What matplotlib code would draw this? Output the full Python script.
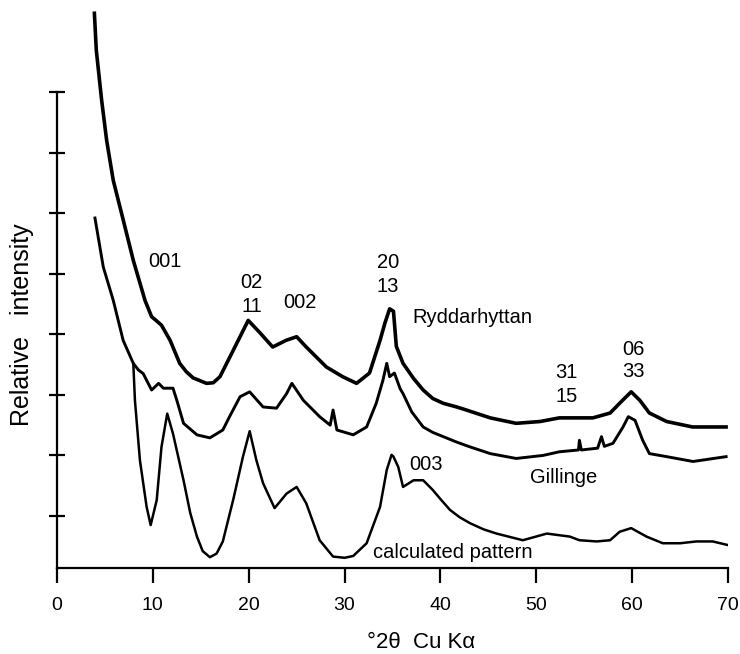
import matplotlib
matplotlib.use("Agg")
import matplotlib.pyplot as plt

plt.rcParams['font.family'] = ['Liberation Sans', 'DejaVu Sans']

# ---- data (x: degrees 2theta, y: relative intensity in tick units) ----
ryd_x = [3.9, 4.1, 4.66, 5.18, 5.87, 6.92, 7.96, 9.18, 9.87, 10.4, 10.9, 11.8, 12.8,
         13.5, 14.2, 15.6, 16.3, 17.0, 18.4, 19.95, 21.2, 22.5, 23.9, 25.0, 26.0,
         28.1, 29.8, 31.25, 32.6, 33.7, 34.2, 34.7, 35.1, 35.4, 36.1, 37.2, 38.2,
         39.2, 40.3, 41.7, 42.7, 45.2, 47.9, 50.4, 52.4, 55.9, 57.7, 59.0, 59.9,
         60.8, 61.8, 63.6, 66.3, 69.8]
ryd_y = [9.30, 8.69, 7.86, 7.20, 6.54, 5.88, 5.22, 4.56, 4.29, 4.22, 4.15, 3.90, 3.52,
         3.38, 3.28, 3.19, 3.20, 3.30, 3.74, 4.23, 4.02, 3.79, 3.90, 3.96, 3.79,
         3.46, 3.30, 3.19, 3.36, 3.90, 4.18, 4.42, 4.38, 3.80, 3.52, 3.27, 3.08,
         2.94, 2.86, 2.80, 2.75, 2.62, 2.53, 2.56, 2.62, 2.62, 2.70, 2.91, 3.05,
         2.91, 2.70, 2.56, 2.47, 2.47]

gil_x = [3.96, 4.83, 5.87, 6.9, 7.96, 8.5, 9.0, 9.35, 9.87, 10.6, 11.1, 12.1, 12.5,
         13.2, 14.6, 15.95, 17.3, 18.0, 19.1, 20.1, 21.5, 22.9, 23.95, 24.5, 25.7,
         27.4, 28.5, 28.8, 29.2, 30.9, 32.3, 33.3, 34.0, 34.4, 34.7, 35.2, 35.8,
         36.1, 37.0, 38.2, 39.2, 40.3, 41.7, 43.1, 45.2, 47.9, 50.7, 52.4, 54.4,
         54.5, 54.7, 56.4, 56.8, 57.1, 58.0, 59.05, 59.6, 60.3, 61.1, 61.8, 63.6,
         66.35, 69.8]
gil_y = [5.92, 5.11, 4.56, 3.90, 3.52, 3.41, 3.35, 3.24, 3.08, 3.19, 3.11, 3.11, 2.91,
         2.53, 2.34, 2.29, 2.42, 2.64, 2.97, 3.05, 2.80, 2.78, 3.02, 3.19, 2.91,
         2.64, 2.50, 2.75, 2.42, 2.34, 2.47, 2.86, 3.24, 3.52, 3.30, 3.36, 3.10,
         3.02, 2.72, 2.47, 2.38, 2.31, 2.22, 2.14, 2.03, 1.95, 2.00, 2.06, 2.09,
         2.25, 2.09, 2.12, 2.31, 2.15, 2.20, 2.47, 2.64, 2.58, 2.25, 2.03, 1.98,
         1.90, 1.98]

calc_x = [7.96, 8.13, 8.65, 9.35, 9.77, 10.4, 10.9, 11.5, 12.1, 13.2, 13.9, 14.6,
          15.2, 15.95, 16.65, 17.3, 18.4, 19.4, 20.1, 20.8, 21.5, 22.7, 23.95, 25.0,
          26.0, 27.4, 28.8, 30.0, 30.9, 32.3, 33.7, 34.4, 34.9, 35.1, 35.6, 36.1,
          37.2, 38.2, 39.2, 40.0, 41.0, 42.0, 43.1, 44.5, 45.85, 48.6, 51.1, 53.5,
          54.5, 56.3, 57.7, 58.7, 59.9, 61.5, 63.2, 65.0, 66.7, 68.4, 70.0]
calc_y = [3.52, 2.91, 1.92, 1.15, 0.85, 1.26, 2.14, 2.69, 2.36, 1.59, 1.05, 0.66,
          0.42, 0.32, 0.38, 0.58, 1.28, 1.98, 2.40, 1.92, 1.54, 1.13, 1.37, 1.48,
          1.21, 0.60, 0.33, 0.31, 0.34, 0.55, 1.15, 1.76, 2.01, 1.98, 1.81, 1.48,
          1.59, 1.59, 1.43, 1.28, 1.10, 0.98, 0.88, 0.78, 0.71, 0.60, 0.71, 0.66,
          0.60, 0.58, 0.60, 0.74, 0.80, 0.66, 0.55, 0.55, 0.58, 0.58, 0.52]

xticks = [0, 10, 20, 30, 40, 50, 60, 70]
yticks = [1, 2, 3, 4, 5, 6, 7, 8]

# annotations: (text, x, y, ha)
labels = [("001", 11.26, 5.11, "center"),
          ("02", 20.3, 4.764, "center"),
          ("11", 20.3, 4.373, "center"),
          ("002", 25.39, 4.434, "center"),
          ("20", 34.55, 5.094, "center"),
          ("13", 34.55, 4.698, "center"),
          ("Ryddarhyttan", 37.12, 4.186, "left"),
          ("31", 53.15, 3.278, "center"),
          ("15", 53.15, 2.882, "center"),
          ("06", 60.1, 3.658, "center"),
          ("33", 60.1, 3.295, "center"),
          ("003", 38.53, 1.759, "center"),
          ("Gillinge", 49.32, 1.54, "left"),
          ("calculated pattern", 32.95, 0.307, "left")]

fig = plt.figure(figsize=(7.4, 6.54), dpi=100)
ax = fig.add_axes([57/740, 86/654, 671/740, 558/654])

ax.plot(ryd_x, ryd_y, color='black', lw=2.6, solid_joinstyle='round')
ax.plot(gil_x, gil_y, color='black', lw=2.1, solid_joinstyle='round')
ax.plot(calc_x, calc_y, color='black', lw=1.8, solid_joinstyle='round')

ax.set_xlim(0, 70)
ax.set_ylim(0.1415, 9.354)

for s in ['top', 'right']:
    ax.spines[s].set_visible(False)
ax.spines['left'].set_linewidth(1.6)
ax.spines['bottom'].set_linewidth(1.6)
ax.spines['left'].set_bounds(0.1415, 8)

ax.set_xticks(xticks)
ax.set_xticklabels([str(t) for t in xticks])
ax.set_yticks(yticks)
ax.set_yticklabels([])
ax.tick_params(axis='x', direction='out', length=11, width=1.6, pad=10,
               labelsize=14)
ax.tick_params(axis='y', direction='inout', length=11, width=1.6)

for txt, x, y, ha in labels:
    ax.text(x, y, txt, ha=ha, va='baseline', fontsize=14.5)

fig.text(421/740, 1 - 643/654, "°2θ  Cu Kα", ha='center', va='center',
         fontsize=16)
fig.text(22.5/740, 1 - 325/654, "Relative   intensity", ha='center',
         va='center', rotation=90, fontsize=18)

fig.savefig("out.png", dpi=100)
